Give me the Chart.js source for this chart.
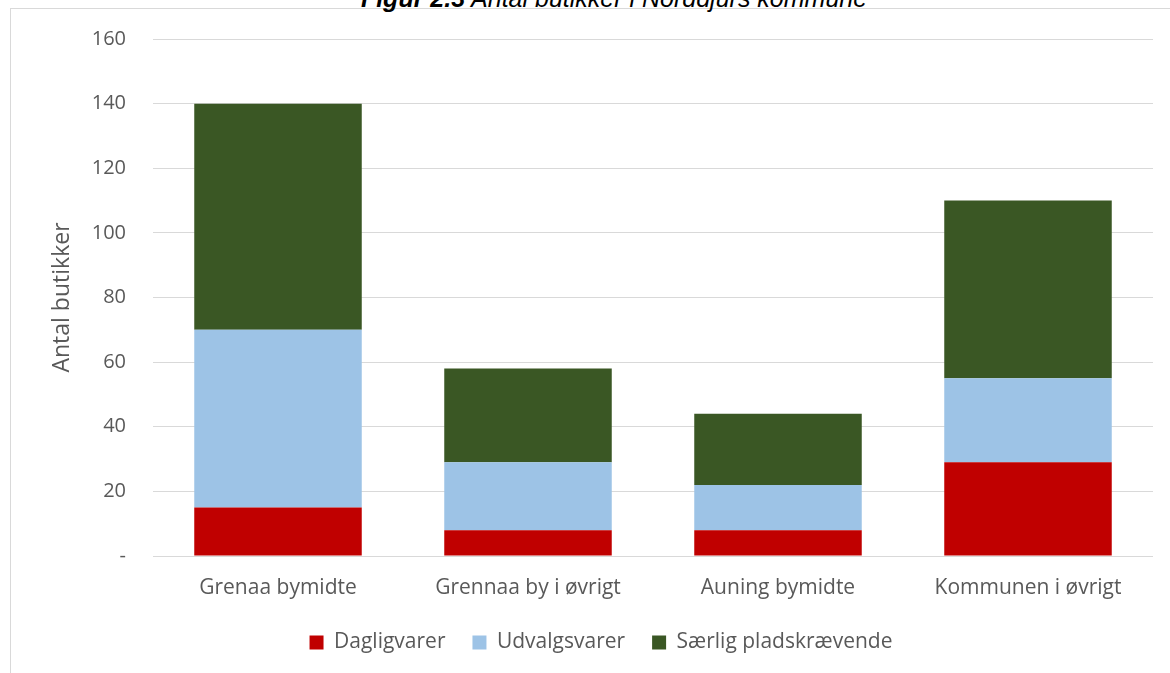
<!DOCTYPE html>
<html>
<head>
<meta charset="utf-8">
<script src="https://cdn.jsdelivr.net/npm/chart.js@4.4.1/dist/chart.umd.min.js"></script>
<style>
  body { margin: 0; background: #fff; overflow: hidden; }
  #wrap { position: relative; width: 1170px; height: 673px; overflow: hidden; }
  #frame { position: absolute; left: 10px; top: 8px; width: 1300px; height: 800px; border: 1px solid #d9d9d9; }
  #titel { position: absolute; top: -16px; left: 0; width: 1228px; text-align: center; font-family: "Liberation Sans", Arial, sans-serif; font-style: italic; font-size: 25px; color: #000; }
  #c { position: absolute; left: 0; top: 0; }
</style>
</head>
<body>
<div id="wrap">
  <div id="frame"></div>
  <div id="titel"><b>Figur 2.3</b> Antal butikker i Norddjurs kommune</div>
  <canvas id="c" width="1170" height="673"></canvas>
</div>
<script>
const omraader = ["Grenaa bymidte", "Grennaa by i øvrigt", "Auning bymidte", "Kommunen i øvrigt"];
const dagligvarer = [15, 8, 8, 29];
const udvalgsvarer = [55, 21, 14, 26];
const saerlig = [70, 29, 22, 55];

const tekstFarve = "#595959";
const skrift = "'Open Sans', sans-serif";

new Chart(document.getElementById("c"), {
  type: "bar",
  data: {
    labels: omraader,
    datasets: [
      { label: "Dagligvarer", data: dagligvarer, backgroundColor: "#c00000" },
      { label: "Udvalgsvarer", data: udvalgsvarer, backgroundColor: "#9dc3e6" },
      { label: "Særlig pladskrævende", data: saerlig, backgroundColor: "#3a5724" }
    ]
  },
  options: {
    responsive: false,
    animation: false,
    layout: { padding: { top: 38, right: 17, left: 49, bottom: 10 } },
    datasets: { bar: { categoryPercentage: 0.67, barPercentage: 1 } },
    scales: {
      x: {
        stacked: true,
        afterFit: s => { s.height = 49; },
        grid: { display: false },
        border: { display: false },
        ticks: { color: tekstFarve, font: { family: skrift, size: 21 }, padding: 11 }
      },
      y: {
        stacked: true,
        min: 0,
        max: 160,
        afterFit: s => { s.width = 104; },
        grid: { color: "#d9d9d9", drawTicks: false },
        border: { display: false },
        ticks: {
          stepSize: 20,
          color: tekstFarve,
          font: { family: skrift, size: 20 },
          padding: 27,
          callback: v => v === 0 ? "-" : v
        },
        title: { display: true, text: "Antal butikker", color: tekstFarve, font: { family: skrift, size: 23 }, padding: 0 }
      }
    },
    plugins: {
      legend: {
        position: "bottom",
        labels: { color: tekstFarve, font: { family: skrift, size: 21 }, boxWidth: 14, boxHeight: 14, padding: 27 }
      },
      tooltip: { enabled: false }
    }
  }
});
</script>
</body>
</html>
